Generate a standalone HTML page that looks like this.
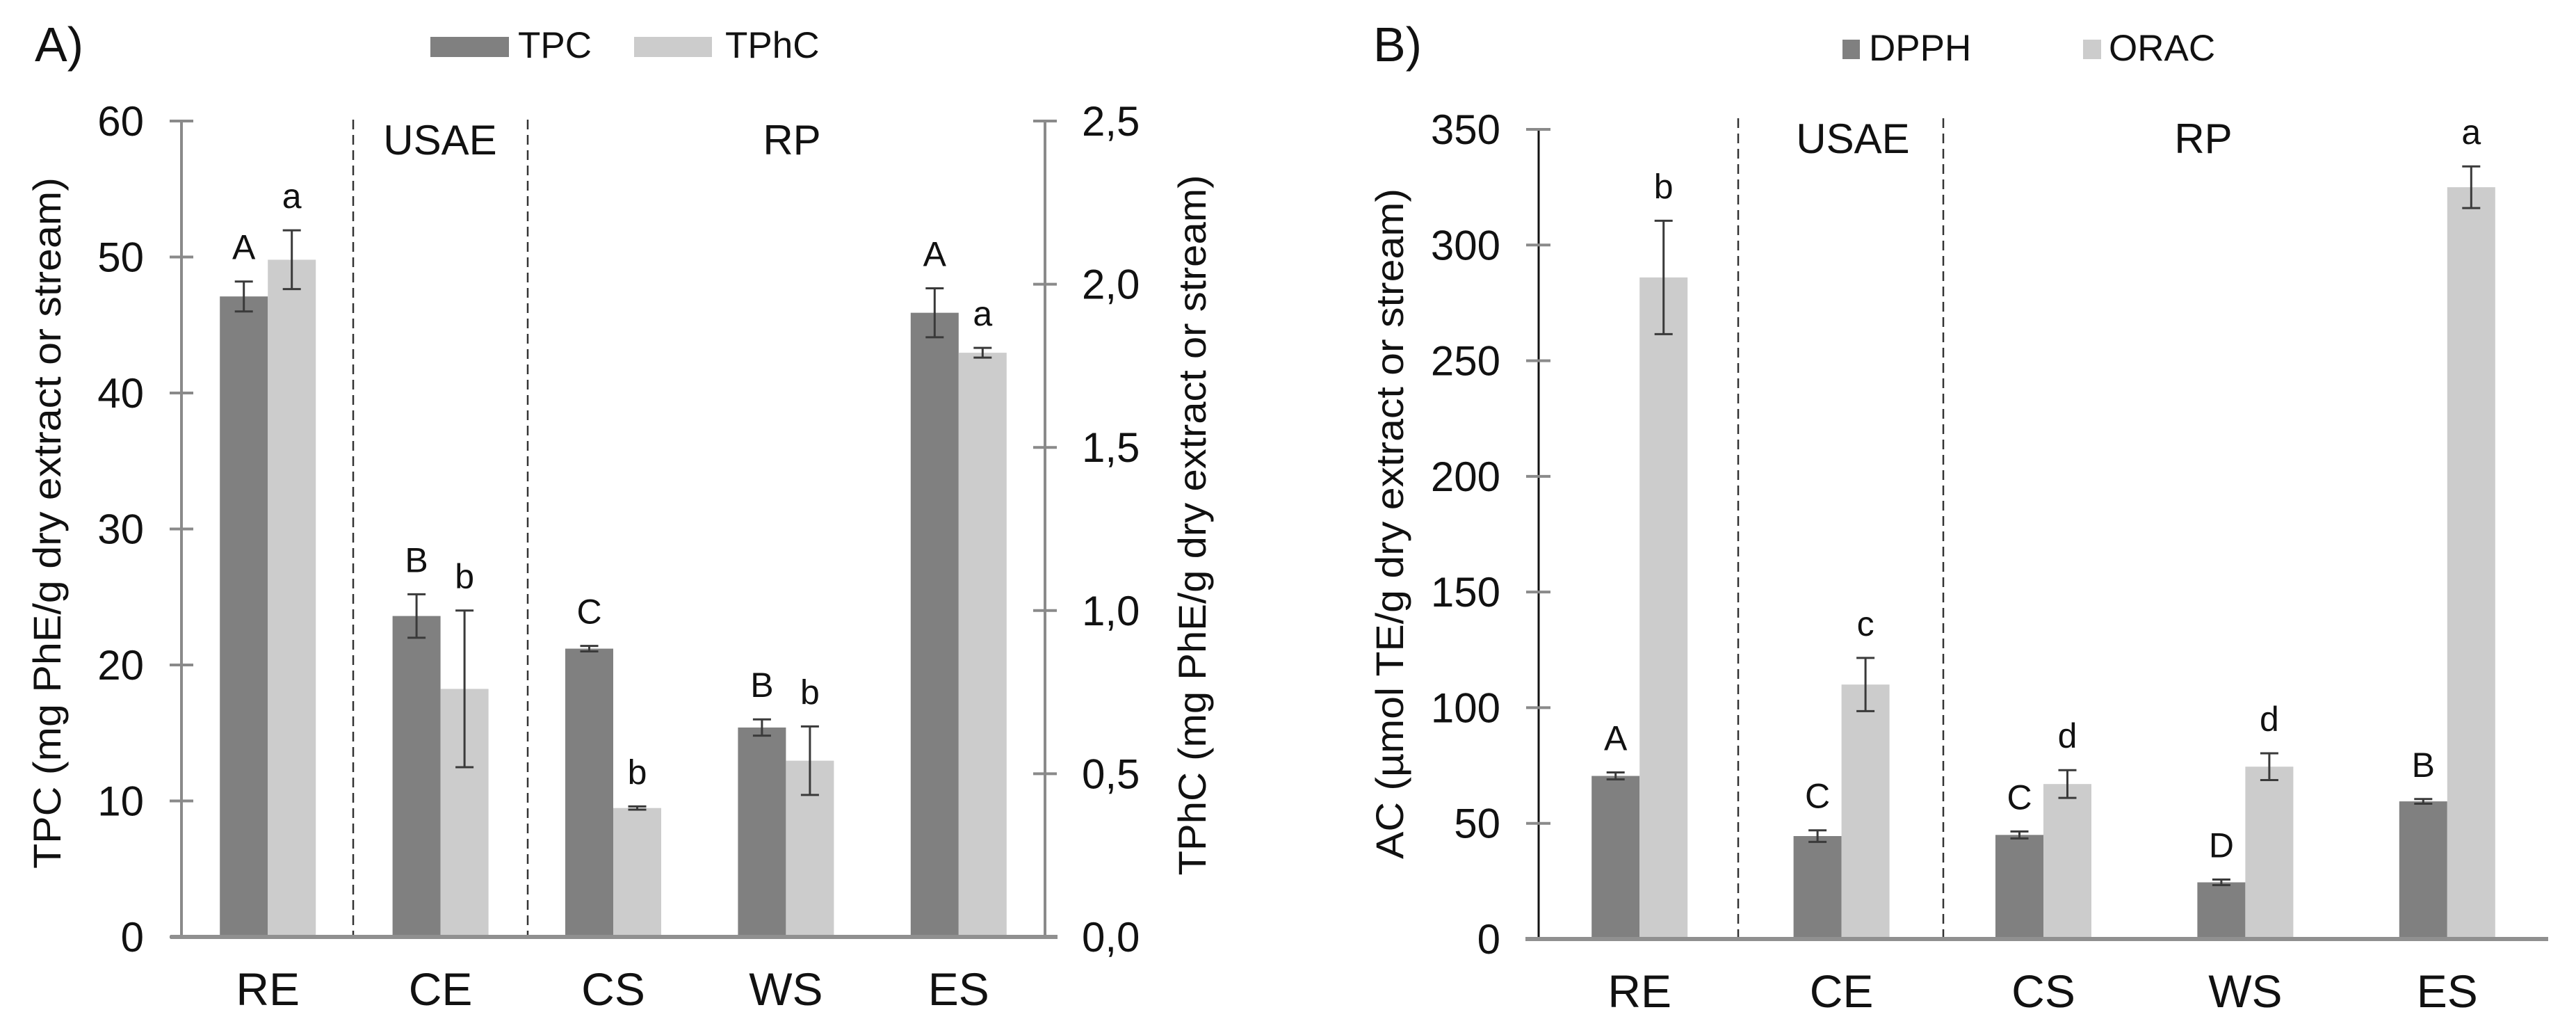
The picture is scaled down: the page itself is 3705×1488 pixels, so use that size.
<!DOCTYPE html>
<html><head><meta charset="utf-8"><style>
html,body{margin:0;padding:0;background:#fff}
svg{display:block}
text{font-family:"Liberation Sans",Arial,sans-serif;fill:#111}
</style></head><body>
<svg id="fig" width="3705" height="1488" viewBox="0 0 3705 1488" xmlns="http://www.w3.org/2000/svg">
<g id="chartA"></g>
<g id="chartB"></g>
</svg>
<script>
// ---- Chart A data ----
const catsA = ["RE","CE","CS","WS","ES"];
const tpcVals = [47.1, 23.6, 21.2, 15.4, 45.9];
const tpcErr = [1.1, 1.6, 0.2, 0.6, 1.8];
const tpcLetters = ["A","B","C","B","A"];
const tphcVals = [2.075, 0.76, 0.395, 0.54, 1.79];
const tphcErr = [0.09, 0.24, 0.005, 0.105, 0.015];
const tphcLetters = ["a","b","b","b","a"];
const ticksA = [0,10,20,30,40,50,60];
const ticksA2 = ["0,0","0,5","1,0","1,5","2,0","2,5"];
const ticksA2Vals = [0,0.5,1,1.5,2,2.5];
// ---- Chart B data ----
const catsB = ["RE","CE","CS","WS","ES"];
const dpphVals = [70.5, 44.5, 45, 24.5, 59.5];
const dpphErr = [1.5, 2.5, 1.5, 1.2, 1.0];
const dpphLetters = ["A","C","C","D","B"];
const oracVals = [286, 110, 67, 74.5, 325];
const oracErr = [24.5, 11.5, 6, 5.8, 9];
const oracLetters = ["b","c","d","d","a"];
const ticksB = [0,50,100,150,200,250,300,350];

const NS="http://www.w3.org/2000/svg";
function mk(parent, tag, attrs, txt){
  const e=document.createElementNS(NS,tag);
  for(const k in attrs) e.setAttribute(k,attrs[k]);
  if(txt!==undefined) e.textContent=txt;
  parent.appendChild(e); return e;
}
const DARK="#808080", LIGHT="#cccccc", ERR="#3a3a3a";

function drawChart(g, cfg){
  const {x0,x1,y0,yTop,max,cats,s1,e1,l1,s2,e2,l2,scale2} = cfg;
  const yS = v => y0 - (v/max)*(y0-yTop);
  const step=(x1-x0)/cats.length, bw=69;
  // bars
  cats.forEach((c,i)=>{
    const cx=x0+step*(i+0.5);
    [[s1[i],e1[i],l1[i],DARK,cx-bw,1,'dark'],[s2[i]*scale2,e2[i]*scale2,l2[i],LIGHT,cx,0,'light']].forEach(([v,er,lab,col,bx,k,nm])=>{
      const r=mk(g,'rect',{x:bx,y:yS(v),width:bw,height:y0-yS(v),fill:col});
      
      
      const ex=bx+bw/2, top=yS(v+er), bot=yS(v-er);
      const eg=mk(g,'g',{stroke:ERR,'stroke-width':3});
      
      
      mk(eg,'line',{x1:ex,x2:ex,y1:top,y2:bot});
      mk(eg,'line',{x1:ex-13,x2:ex+13,y1:top,y2:top});
      mk(eg,'line',{x1:ex-13,x2:ex+13,y1:bot,y2:bot});
      const t=mk(g,'text',{x:ex,y:top-32,'font-size':50,'text-anchor':'middle'},lab);
      
      
    });
    const cl=mk(g,'text',{x:cx,y:y0+98,'font-size':66,'text-anchor':'middle'},c);
    
    
  });
  return yS;
}

// ---- Chart A ----
(function(){
  const g=document.getElementById('chartA');
  const x0=261,x1=1503,y0=1347,yTop=174;
  // dashed separators
  [508,759].forEach(x=>{const l=mk(g,'line',{x1:x,x2:x,y1:172,y2:y0,stroke:'#333','stroke-width':2.5,'stroke-dasharray':'14 8'});
    });
  const yS=drawChart(g,{x0,x1,y0,yTop,max:60,cats:catsA,s1:tpcVals,e1:tpcErr,l1:tpcLetters,s2:tphcVals,e2:tphcErr,l2:tphcLetters,scale2:24});
  // axes
  const ax=mk(g,'g',{stroke:'#8a8a8a','stroke-width':4});
  
  mk(ax,'line',{x1:x0,x2:x0,y1:yTop,y2:y0});
  mk(ax,'line',{x1:x1,x2:x1,y1:yTop,y2:y0});
  ticksA.forEach(v=>{mk(ax,'line',{x1:x0-17,x2:x0+17,y1:yS(v),y2:yS(v)});
    const t=mk(g,'text',{x:207,y:yS(v)+21,'font-size':60,'text-anchor':'end'},v);
    });
  ticksA2Vals.forEach((v,i)=>{const y=y0-(v/2.5)*(y0-yTop);mk(ax,'line',{x1:x1-17,x2:x1+17,y1:y,y2:y});
    const t=mk(g,'text',{x:1556,y:y+21,'font-size':60},ticksA2[i]);
    });
  const bl=mk(g,'line',{x1:245,x2:1521,y1:y0,y2:y0,stroke:'#909090','stroke-width':6});
  
  const t1=mk(g,'text',{x:633,y:222,'font-size':60,'text-anchor':'middle'},'USAE');
  
  const t2=mk(g,'text',{x:1139,y:222,'font-size':60,'text-anchor':'middle'},'RP');
  
  const yt=mk(g,'text',{transform:'translate(87,752) rotate(-90)','font-size':56,'text-anchor':'middle',textLength:994,lengthAdjust:'spacingAndGlyphs'},'TPC (mg PhE/g dry extract or stream)');
  
  const yt2=mk(g,'text',{transform:'translate(1734,755) rotate(-90)','font-size':56,'text-anchor':'middle',textLength:1007,lengthAdjust:'spacingAndGlyphs'},'TPhC (mg PhE/g dry extract or stream)');
  
  const pl=mk(g,'text',{x:50,y:88,'font-size':70},'A)');
  
  const lg=mk(g,'g',{});
  
  mk(lg,'rect',{x:619,y:53,width:113,height:29,fill:DARK});
  mk(lg,'text',{x:745,y:83,'font-size':53},'TPC');
  mk(lg,'rect',{x:912,y:53,width:112,height:29,fill:LIGHT});
  mk(lg,'text',{x:1043,y:83,'font-size':53},'TPhC');
})();

// ---- Chart B ----
(function(){
  const g=document.getElementById('chartB');
  const x0=2213,x1=3665,y0=1350,yTop=186;
  [2500,2795].forEach(x=>{const l=mk(g,'line',{x1:x,x2:x,y1:170,y2:y0,stroke:'#333','stroke-width':2.5,'stroke-dasharray':'14 8'});
    });
  const yS=drawChart(g,{x0,x1,y0,yTop,max:350,cats:catsB,s1:dpphVals,e1:dpphErr,l1:dpphLetters,s2:oracVals,e2:oracErr,l2:oracLetters,scale2:1});
  const ax=mk(g,'g',{stroke:'#111','stroke-width':3});
  
  mk(ax,'line',{x1:x0,x2:x0,y1:yTop,y2:y0});
  ticksB.forEach(v=>{mk(ax,'line',{x1:x0-18,x2:x0+17,y1:yS(v),y2:yS(v),stroke:'#8a8a8a','stroke-width':4});
    const t=mk(g,'text',{x:2158,y:yS(v)+21,'font-size':60,'text-anchor':'end'},v);
    });
  const bl=mk(g,'line',{x1:2194,x2:3665,y1:y0,y2:y0,stroke:'#909090','stroke-width':6});
  
  const t1=mk(g,'text',{x:2665,y:220,'font-size':60,'text-anchor':'middle'},'USAE');
  
  const t2=mk(g,'text',{x:3169,y:220,'font-size':60,'text-anchor':'middle'},'RP');
  
  const yt=mk(g,'text',{transform:'translate(2018,753) rotate(-90)','font-size':56,'text-anchor':'middle',textLength:964,lengthAdjust:'spacingAndGlyphs'},'AC (µmol TE/g dry extract or stream)');
  
  const pl=mk(g,'text',{x:1975,y:88,'font-size':70},'B)');
  
  const lg=mk(g,'g',{});
  
  mk(lg,'rect',{x:2650,y:57,width:25,height:28,fill:DARK});
  mk(lg,'text',{x:2688,y:87,'font-size':53},'DPPH');
  mk(lg,'rect',{x:2996,y:57,width:26,height:28,fill:LIGHT});
  mk(lg,'text',{x:3033,y:87,'font-size':53},'ORAC');
})();
</script>
</body></html>
